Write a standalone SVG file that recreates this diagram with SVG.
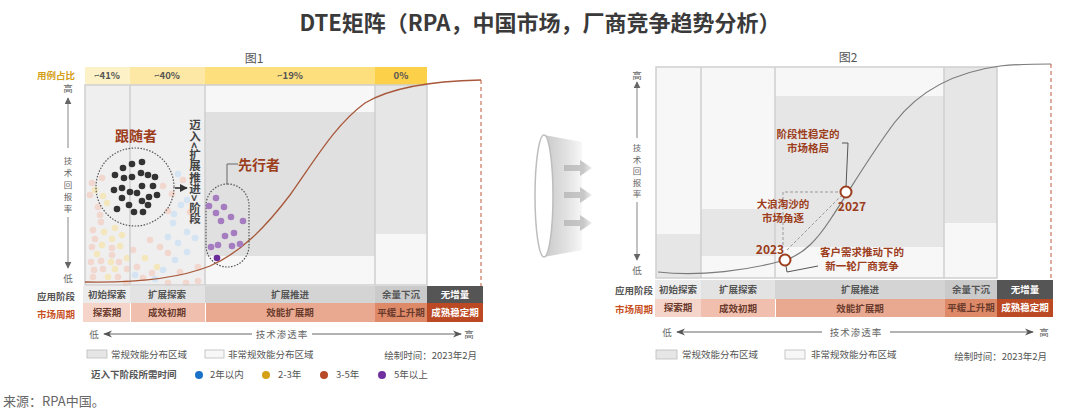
<svg xmlns="http://www.w3.org/2000/svg" width="1080" height="414" viewBox="0 0 1080 414">
<style>
text{font-family:"Noto Sans CJK SC","Liberation Sans",sans-serif}
.t{font-size:22px;font-weight:bold;fill:#3a3a3a}
.fig{font-size:12px;fill:#555}
.band{font-size:9.5px;font-weight:bold;fill:#555;text-anchor:middle}
.cell{font-size:9.5px;font-weight:bold;fill:#555;text-anchor:middle}
.cellw{font-size:9.5px;font-weight:bold;fill:#fff;text-anchor:middle}
.mk{font-size:9.5px;font-weight:bold;fill:#6a3a2c;text-anchor:middle}
.rl{font-size:9.5px;font-weight:bold;text-anchor:end}
.ax{font-size:9.5px;fill:#666;text-anchor:middle}
.ay{font-size:8.5px;fill:#666;text-anchor:middle}
.lg{font-size:9.5px;fill:#555}
.lab{font-weight:bold;fill:#9c3d1c;text-anchor:middle}
.grid{stroke:#cfcfcf;stroke-width:1.5;fill:none}
.axl{stroke:#999;stroke-width:1.2;fill:none}
.xl{stroke:#666;stroke-width:1;fill:none}
</style>
<defs>
<marker id="ah" viewBox="0 0 10 10" refX="9" refY="5" markerWidth="7" markerHeight="7" orient="auto-start-reverse" markerUnits="userSpaceOnUse">
<path d="M0,0 L10,5 L0,10 Z" fill="#666"/>
</marker>
<marker id="ahx" viewBox="0 0 10 10" refX="9" refY="5" markerWidth="9" markerHeight="9" orient="auto-start-reverse" markerUnits="userSpaceOnUse">
<path d="M0,1 L10,5 L0,9 L3,5 Z" fill="#555"/>
</marker>
<marker id="ahk" viewBox="0 0 10 10" refX="9" refY="5" markerWidth="8" markerHeight="8" orient="auto" markerUnits="userSpaceOnUse">
<path d="M0,0 L10,5 L0,10 Z" fill="#333"/>
</marker>
<linearGradient id="cone" x1="0" y1="0" x2="1" y2="0">
<stop offset="0" stop-color="#c9c9c9"/>
<stop offset="0.6" stop-color="#e2e2e2"/>
<stop offset="1" stop-color="#f7f7f7"/>
</linearGradient>
<linearGradient id="arr" x1="0" y1="0" x2="1" y2="0">
<stop offset="0" stop-color="#bdbdbd"/>
<stop offset="0.7" stop-color="#c8c8c8"/>
<stop offset="1" stop-color="#eeeeee"/>
</linearGradient>
</defs>
<rect width="1080" height="414" fill="#fff"/>

<text class="t" x="540" y="31" text-anchor="middle">DTE矩阵（RPA，中国市场，厂商竞争趋势分析）</text>

<!-- LEFT CHART -->
<g id="fig1">
<text class="fig" x="254" y="63" text-anchor="middle">图1</text>
<text class="rl" x="75" y="79" fill="#d4a017">用例占比</text>
<rect x="85" y="67" width="45" height="18" fill="#fdf1c8"/>
<rect x="130" y="67" width="75" height="18" fill="#fde8a6"/>
<rect x="205" y="67" width="170" height="18" fill="#fedf7e"/>
<rect x="375" y="67" width="52" height="18" fill="#fdd04a"/>
<text class="band" x="107" y="79">~41%</text>
<text class="band" x="167" y="79">~40%</text>
<text class="band" x="290" y="79">~19%</text>
<text class="band" x="401" y="79">0%</text>
<rect x="85" y="85" width="120" height="200" fill="#efefef"/>
<rect x="205" y="85" width="170" height="200" fill="#f7f7f7"/>
<rect x="205" y="112" width="170" height="144" fill="#e0e0e0"/>
<rect x="375" y="85" width="52" height="200" fill="#f7f7f7"/>
<rect x="375" y="85" width="52" height="149" fill="#e6e6e6"/>
</g>

<g id="pale-dots">
<circle cx="90" cy="195" r="3.3" fill="#f2d7ce"/><circle cx="102" cy="178" r="3.3" fill="#f2d7ce"/><circle cx="92" cy="183" r="3.3" fill="#f2d7ce"/><circle cx="95" cy="190" r="3.3" fill="#f4e7bd"/><circle cx="107" cy="203" r="3.3" fill="#f4e7bd"/><circle cx="98" cy="207" r="3.3" fill="#f2d7ce"/><circle cx="100" cy="215" r="3.3" fill="#f2d7ce"/><circle cx="101" cy="222" r="3.3" fill="#f2d7ce"/><circle cx="115" cy="228" r="3.3" fill="#f4e7bd"/><circle cx="93" cy="230" r="3.3" fill="#f2d7ce"/><circle cx="104" cy="232" r="3.3" fill="#f4e7bd"/><circle cx="95" cy="239" r="3.3" fill="#f2d7ce"/><circle cx="112" cy="239" r="3.3" fill="#f4e7bd"/><circle cx="122" cy="235" r="3.3" fill="#f4e7bd"/><circle cx="92" cy="247" r="3.3" fill="#f2d7ce"/><circle cx="102" cy="245" r="3.3" fill="#f4e7bd"/><circle cx="112" cy="248" r="3.3" fill="#f2d7ce"/><circle cx="120" cy="246" r="3.3" fill="#f4e7bd"/><circle cx="97" cy="254" r="3.3" fill="#f4e7bd"/><circle cx="112" cy="255" r="3.3" fill="#f2d7ce"/><circle cx="127" cy="258" r="3.3" fill="#f4e7bd"/><circle cx="91" cy="262" r="3.3" fill="#f2d7ce"/><circle cx="101" cy="261" r="3.3" fill="#f2d7ce"/><circle cx="111" cy="262" r="3.3" fill="#f4e7bd"/><circle cx="119" cy="262" r="3.3" fill="#f2d7ce"/><circle cx="94" cy="270" r="3.3" fill="#f2d7ce"/><circle cx="103" cy="269" r="3.3" fill="#f2d7ce"/><circle cx="115" cy="269" r="3.3" fill="#f4e7bd"/><circle cx="127" cy="269" r="3.3" fill="#f2d7ce"/><circle cx="93" cy="277" r="3.3" fill="#f2d7ce"/><circle cx="108" cy="277" r="3.3" fill="#f4e7bd"/><circle cx="118" cy="277" r="3.3" fill="#f2d7ce"/><circle cx="135" cy="275" r="3.3" fill="#d4e4f3"/><circle cx="143" cy="278" r="3.3" fill="#f2d7ce"/><circle cx="152" cy="273" r="3.3" fill="#f2d7ce"/><circle cx="163" cy="270" r="3.3" fill="#d4e4f3"/><circle cx="180" cy="272" r="3.3" fill="#f2d7ce"/><circle cx="198" cy="267" r="3.3" fill="#f2d7ce"/><circle cx="137" cy="267" r="3.3" fill="#f2d7ce"/><circle cx="157" cy="267" r="3.3" fill="#f4e7bd"/><circle cx="168" cy="237" r="3.3" fill="#d4e4f3"/><circle cx="178" cy="243" r="3.3" fill="#d4e4f3"/><circle cx="168" cy="253" r="3.3" fill="#f2d7ce"/><circle cx="160" cy="247" r="3.3" fill="#f2d7ce"/><circle cx="175" cy="260" r="3.3" fill="#d4e4f3"/><circle cx="187" cy="252" r="3.3" fill="#d4e4f3"/><circle cx="195" cy="238" r="3.3" fill="#d4e4f3"/><circle cx="198" cy="281" r="3.3" fill="#f2d7ce"/><circle cx="173" cy="223" r="3.3" fill="#d4e4f3"/><circle cx="168" cy="211" r="3.3" fill="#f2d7ce"/><circle cx="187" cy="200" r="3.3" fill="#d4e4f3"/><circle cx="193" cy="190" r="3.3" fill="#d4e4f3"/><circle cx="183" cy="180" r="3.3" fill="#f2d7ce"/><circle cx="155" cy="279" r="3.3" fill="#d4e4f3"/><circle cx="163" cy="186" r="3.3" fill="#f2d7ce"/><circle cx="178" cy="174" r="3.3" fill="#d4e4f3"/><circle cx="172" cy="194" r="3.3" fill="#f2d7ce"/><circle cx="181" cy="205" r="3.3" fill="#d4e4f3"/><circle cx="174" cy="214" r="3.3" fill="#d4e4f3"/><circle cx="190" cy="212" r="3.3" fill="#f2d7ce"/><circle cx="187" cy="232" r="3.3" fill="#d4e4f3"/><circle cx="168" cy="283" r="3.3" fill="#f2d7ce"/><circle cx="186" cy="283" r="3.3" fill="#f2d7ce"/><circle cx="126" cy="283" r="3.3" fill="#f2d7ce"/><circle cx="103" cy="196" r="3.3" fill="#f4e7bd"/><circle cx="145" cy="258" r="3.3" fill="#f4e7bd"/><circle cx="150" cy="240" r="3.3" fill="#f2d7ce"/><circle cx="133" cy="250" r="3.3" fill="#f2d7ce"/>
</g>

<g id="fig1-grid">
<rect class="grid" x="85" y="85" width="342" height="200"/>
<line class="grid" x1="130" y1="85" x2="130" y2="285" stroke="#dddddd"/>
<line class="grid" x1="205" y1="85" x2="205" y2="285"/>
<line class="grid" x1="375" y1="85" x2="375" y2="285"/>
</g>

<g id="fig1-yaxis">
<text class="ax" x="68" y="92">高</text>
<line class="axl" x1="68" y1="148" x2="68" y2="98" marker-end="url(#ah)"/>
<text class="ay" x="68" y="164">技</text>
<text class="ay" x="68" y="176">术</text>
<text class="ay" x="68" y="188">回</text>
<text class="ay" x="68" y="200">报</text>
<text class="ay" x="68" y="212">率</text>
<line class="axl" x1="68" y1="217" x2="68" y2="268" marker-end="url(#ah)"/>
<text class="ax" x="68" y="282">低</text>
</g>

<!-- CONE -->
<g id="cone">
<path d="M544,135 L582,142 L582,250 L544,257 Z" fill="url(#cone)"/>
<ellipse cx="544" cy="196" rx="9" ry="61" fill="#fff" stroke="#bdbdbd" stroke-width="1.5"/>
<path d="M564,165 L580,165 L580,160 L592,168 L580,176 L580,171 L564,171 Z" fill="url(#arr)"/>
<path d="M564,192 L580,192 L580,187 L592,195 L580,203 L580,198 L564,198 Z" fill="url(#arr)"/>
<path d="M564,220 L580,220 L580,215 L592,223 L580,231 L580,226 L564,226 Z" fill="url(#arr)"/>
</g>

<!-- RIGHT CHART -->
<g id="fig2">
<text class="fig" x="848" y="62" text-anchor="middle">图2</text>
<rect x="656" y="67" width="341" height="211" fill="#f7f7f7"/>
<rect x="656" y="234" width="45" height="44" fill="#e6e6e6"/>
<rect x="701" y="209" width="74" height="47" fill="#e6e6e6"/>
<rect x="775" y="96" width="169" height="151" fill="#e6e6e6"/>
<rect x="944" y="67" width="53" height="156" fill="#e6e6e6"/>
<rect class="grid" x="656" y="67" width="341" height="211"/>
<line class="grid" x1="701" y1="67" x2="701" y2="278"/>
<line class="grid" x1="775" y1="67" x2="775" y2="278"/>
<line class="grid" x1="944" y1="67" x2="944" y2="278"/>
</g>

<g id="fig2-yaxis">
<text class="ax" x="637" y="79">高</text>
<line class="axl" x1="637" y1="138" x2="637" y2="82" marker-end="url(#ah)"/>
<text class="ay" x="637" y="151">技</text>
<text class="ay" x="637" y="162.5">术</text>
<text class="ay" x="637" y="174">回</text>
<text class="ay" x="637" y="185.5">报</text>
<text class="ay" x="637" y="197">率</text>
<line class="axl" x1="637" y1="202" x2="637" y2="260" marker-end="url(#ah)"/>
<text class="ax" x="637" y="274">低</text>
</g>

<g id="connectors">
<path d="M85,282 C140,283 180,278 210,266 C240,253 265,228 290,195 C315,160 335,125 365,103 C390,88 430,81 481,80" fill="none" stroke="#a8583a" stroke-width="1.3"/>
<line x1="481" y1="80" x2="481" y2="286" stroke="#c0583a" stroke-width="1" stroke-dasharray="4,3"/>
<line x1="175" y1="188" x2="187" y2="188" stroke="#333" stroke-width="1.6" marker-end="url(#ahk)"/>
<polyline points="227,184 227,164 238,164" fill="none" stroke="#666" stroke-width="1"/>
<path d="M658,272 C700,277 750,270 785,260 C805,254 818,238 830,220 C850,190 870,155 895,122 C920,90 955,72 1000,66 C1020,64 1040,64 1051,64" fill="none" stroke="#7a7a7a" stroke-width="1.2"/>
<line x1="1051" y1="64" x2="1051" y2="280" stroke="#c0583a" stroke-width="1" stroke-dasharray="4,3"/>
<polyline points="783,245 783,192 842,192" fill="none" stroke="#999" stroke-width="1" stroke-dasharray="3,2"/>
<line x1="787" y1="250" x2="842" y2="195" stroke="#999" stroke-width="1" stroke-dasharray="3,2"/>
<polyline points="842,143 848,143 846,187" fill="none" stroke="#555" stroke-width="1"/>
<polyline points="786,266 787,272 818,266" fill="none" stroke="#555" stroke-width="1"/>
</g>

<g id="followers">
<text class="lab" x="136" y="141" font-size="14">跟随者</text>
<circle cx="135" cy="187" r="39" fill="none" stroke="#555" stroke-width="1.2" stroke-dasharray="1.5,1.5"/>
<g fill="#333">
<circle cx="142" cy="162" r="3.3"/><circle cx="132" cy="164" r="3.3"/><circle cx="123" cy="168" r="3.3"/><circle cx="141" cy="173" r="3.3"/><circle cx="148" cy="175" r="3.3"/><circle cx="155" cy="177" r="3.3"/><circle cx="115" cy="175" r="3.3"/><circle cx="124" cy="178" r="3.3"/><circle cx="132" cy="177" r="3.3"/><circle cx="142" cy="186" r="3.3"/><circle cx="153" cy="186" r="3.3"/><circle cx="114" cy="190" r="3.3"/><circle cx="122" cy="188" r="3.3"/><circle cx="130" cy="192" r="3.3"/><circle cx="137" cy="193" r="3.3"/><circle cx="157" cy="195" r="3.3"/><circle cx="149" cy="197" r="3.3"/><circle cx="122" cy="198" r="3.3"/><circle cx="142" cy="201" r="3.3"/><circle cx="129" cy="205" r="3.3"/><circle cx="148" cy="205" r="3.3"/><circle cx="117" cy="209" r="3.3"/><circle cx="134" cy="212" r="3.3"/><circle cx="143" cy="212" r="3.3"/>
</g>
</g>

<g id="enter-label">
<text x="195" y="119" font-size="11.5" font-weight="bold" fill="#444" style="writing-mode:vertical-rl">迈入&lt;扩展推进&gt;阶段</text>
</g>

<g id="leaders">
<text class="lab" x="259" y="170" font-size="14">先行者</text>
<rect x="206" y="184" width="43" height="83" rx="21.5" fill="none" stroke="#555" stroke-width="1.2" stroke-dasharray="1.5,1.5"/>
<g fill="#a57cc0">
<circle cx="216" cy="198" r="3.3"/><circle cx="209" cy="206" r="3.3"/><circle cx="224" cy="207" r="3.3"/><circle cx="216" cy="213" r="3.3"/><circle cx="231" cy="217" r="3.3"/><circle cx="221" cy="221" r="3.3"/><circle cx="243" cy="221" r="3.3"/><circle cx="234" cy="233" r="3.3"/><circle cx="225" cy="236" r="3.3"/><circle cx="218" cy="245" r="3.3"/><circle cx="211" cy="247" r="3.3"/><circle cx="232" cy="246" r="3.3"/><circle cx="240" cy="244" r="3.3"/>
</g>
<circle cx="217" cy="258" r="3.3" fill="#6a2a9a"/>
</g>

<g id="fig1-rows">
<text class="rl" x="75" y="300" fill="#555">应用阶段</text>
<text class="rl" x="75" y="318" fill="#c8501e">市场周期</text>
<rect x="83" y="286" width="47" height="17" fill="#ececec"/>
<rect x="130" y="286" width="75" height="17" fill="#e3e3e3"/>
<rect x="205" y="286" width="170" height="17" fill="#d4d4d4"/>
<rect x="375" y="286" width="52" height="17" fill="#cacaca"/>
<rect x="427" y="286" width="56" height="17" fill="#555"/>
<text class="cell" x="107" y="298">初始探索</text>
<text class="cell" x="167" y="298">扩展探索</text>
<text class="cell" x="290" y="298">扩展推进</text>
<text class="cell" x="401" y="298">余量下沉</text>
<text class="cellw" x="455" y="298">无增量</text>
<rect x="83" y="303" width="47" height="19" fill="#f5d5ca"/>
<rect x="131" y="303" width="74" height="19" fill="#f0bfae"/>
<rect x="206" y="303" width="169" height="19" fill="#e8a990"/>
<rect x="375" y="303" width="52" height="19" fill="#de8a68"/>
<rect x="427" y="303" width="56" height="19" fill="#bb4a24"/>
<text class="mk" x="107" y="316">探索期</text>
<text class="mk" x="167" y="316">成效初期</text>
<text class="mk" x="290" y="316">效能扩展期</text>
<text class="mk" x="401" y="316">平缓上升期</text>
<text class="cellw" x="455" y="316">成熟稳定期</text>
</g>

<g id="fig1-xaxis">
<text class="ax" x="94" y="338">低</text>
<line class="xl" x1="252" y1="334" x2="104" y2="334" marker-end="url(#ahx)"/>
<text class="ax" x="282" y="338" letter-spacing="1">技术渗透率</text>
<line class="xl" x1="312" y1="334" x2="461" y2="334" marker-end="url(#ahx)"/>
<text class="ax" x="469" y="338">高</text>
</g>

<g id="fig1-legend">
<rect x="87" y="350" width="20" height="8" fill="#e6e6e6" stroke="#bbb" stroke-width="0.8"/>
<text class="lg" x="111" y="358">常规效能分布区域</text>
<rect x="205" y="350" width="19" height="8" fill="#f7f7f7" stroke="#bbb" stroke-width="0.8"/>
<text class="lg" x="228" y="358">非常规效能分布区域</text>
<text class="lg" x="477" y="359" text-anchor="end">绘制时间：2023年2月</text>
<text class="lg" x="91" y="378" font-weight="bold" fill="#444">迈入下阶段所需时间</text>
<circle cx="199" cy="375" r="4" fill="#1a72c6"/>
<text class="lg" x="210" y="378">2年以内</text>
<circle cx="266" cy="375" r="4" fill="#d4a017"/>
<text class="lg" x="278" y="378">2-3年</text>
<circle cx="324" cy="375" r="4" fill="#b84a2a"/>
<text class="lg" x="336" y="378">3-5年</text>
<circle cx="382" cy="375" r="4" fill="#7030a0"/>
<text class="lg" x="394" y="378">5年以上</text>
</g>

<text x="3" y="406" font-size="13" fill="#666">来源：RPA中国。</text>

<g id="m2023">
<circle cx="785" cy="260" r="5.5" fill="#fff" stroke="#9c3d1c" stroke-width="2"/>
<text class="lab" x="770" y="254" font-size="12">2023</text>
</g>
<g id="m2027">
<circle cx="846" cy="192" r="5.5" fill="#fff" stroke="#9c3d1c" stroke-width="2"/>
<text class="lab" x="852" y="211" font-size="12">2027</text>
</g>
<g id="notes">
<text class="lab" font-size="10.5"><tspan x="783" y="208">大浪淘沙的</tspan><tspan x="783" y="222">市场角逐</tspan></text>
<text class="lab" font-size="10.5"><tspan x="808" y="138">阶段性稳定的</tspan><tspan x="808" y="152">市场格局</tspan></text>
<text class="lab" font-size="10.5"><tspan x="862" y="256">客户需求推动下的</tspan><tspan x="862" y="270">新一轮厂商竞争</tspan></text>
</g>

<g id="fig2-rows">
<text class="rl" x="653" y="294" fill="#555">应用阶段</text>
<text class="rl" x="653" y="313" fill="#c8501e">市场周期</text>
<rect x="655" y="280" width="46" height="19" fill="#ececec"/>
<rect x="701" y="280" width="74" height="19" fill="#e3e3e3"/>
<rect x="775" y="280" width="170" height="19" fill="#d4d4d4"/>
<rect x="945" y="280" width="52" height="19" fill="#cacaca"/>
<rect x="997" y="280" width="56" height="19" fill="#555"/>
<text class="cell" x="678" y="293">初始探索</text>
<text class="cell" x="738" y="293">扩展探索</text>
<text class="cell" x="860" y="293">扩展推进</text>
<text class="cell" x="971" y="293">余量下沉</text>
<text class="cellw" x="1025" y="293">无增量</text>
<rect x="655" y="299" width="46" height="18" fill="#f5d5ca"/>
<rect x="701" y="299" width="74" height="18" fill="#f0bfae"/>
<rect x="776" y="299" width="169" height="18" fill="#e8a990"/>
<rect x="945" y="299" width="52" height="18" fill="#de8a68"/>
<rect x="997" y="299" width="56" height="18" fill="#bb4a24"/>
<text class="mk" x="678" y="311">探索期</text>
<text class="mk" x="738" y="312">成效初期</text>
<text class="mk" x="860" y="312">效能扩展期</text>
<text class="mk" x="971" y="311">平缓上升期</text>
<text class="cellw" x="1025" y="311">成熟稳定期</text>
</g>

<g id="fig2-xaxis">
<text class="ax" x="667" y="336">低</text>
<line class="xl" x1="822" y1="332" x2="677" y2="332" marker-end="url(#ahx)"/>
<text class="ax" x="856" y="336" letter-spacing="1">技术渗透率</text>
<line class="xl" x1="890" y1="332" x2="1033" y2="332" marker-end="url(#ahx)"/>
<text class="ax" x="1044" y="336">高</text>
</g>

<g id="fig2-legend">
<rect x="656" y="350" width="21" height="9" fill="#e6e6e6" stroke="#bbb" stroke-width="0.8"/>
<text class="lg" x="682" y="358">常规效能分布区域</text>
<rect x="785" y="350" width="20" height="9" fill="#f7f7f7" stroke="#bbb" stroke-width="0.8"/>
<text class="lg" x="811" y="358">非常规效能分布区域</text>
<text class="lg" x="1047" y="360" text-anchor="end" font-size="11">绘制时间：2023年2月</text>
</g>
</svg>
